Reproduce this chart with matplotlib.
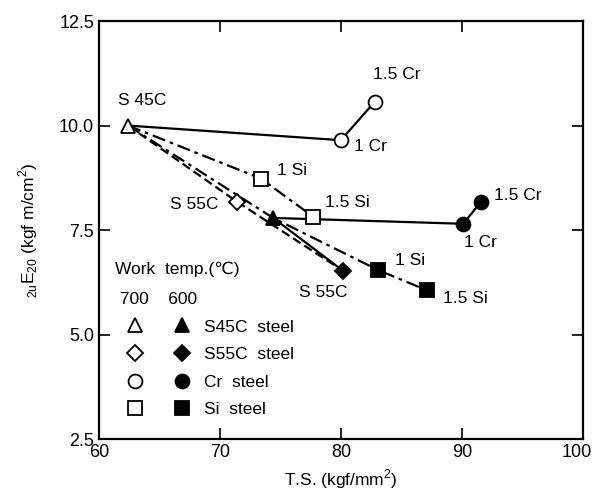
import matplotlib
matplotlib.use("Agg")
import matplotlib.pyplot as plt
from matplotlib.legend_handler import HandlerTuple
from matplotlib.lines import Line2D
from matplotlib.transforms import ScaledTranslation

plt.rcParams["font.family"] = ["Liberation Sans", "DejaVu Sans"]
plt.rcParams["mathtext.fontset"] = "custom"
plt.rcParams["mathtext.rm"] = "Liberation Sans"

# T.S. (kgf/mm2) and 2uE20 (kgfm/cm2)
s45c_700 = (62.4, 10.0)
s45c_600 = (74.4, 7.79)
s55c_700 = (71.4, 8.18)
s55c_600 = (80.2, 6.52)
cr_700_x = [80.0, 82.8]
cr_700_y = [9.65, 10.57]
cr_600_x = [90.1, 91.6]
cr_600_y = [7.65, 8.18]
si_700_x = [73.4, 77.7]
si_700_y = [8.73, 7.82]
si_600_x = [83.1, 87.1]
si_600_y = [6.54, 6.06]

point_labels = [
    ("S 45C", 63.6, 10.6), ("1.5 Cr", 84.6, 11.22), ("1 Cr", 82.4, 9.51),
    ("1 Si", 76.0, 8.92), ("1.5 Si", 80.5, 8.16), ("S 55C", 67.9, 8.1),
    ("1.5 Cr", 94.6, 8.32), ("1 Cr", 91.5, 7.2), ("1 Si", 85.7, 6.76),
    ("S 55C", 78.5, 6.0), ("1.5 Si", 90.3, 5.86),
]

x_ticks = [60, 70, 80, 90, 100]
y_ticks = [2.5, 5.0, 7.5, 10.0, 12.5]

dashdot = (0, (6, 2.2, 1.6, 2.2))
dashed = (0, (4, 2))
lw = 1.6

fig = plt.figure(figsize=(5.96, 4.90), dpi=100)
ax = fig.add_axes([0.166, 0.104, 0.812, 0.853])

# connecting lines
ax.plot([s45c_700[0]] + cr_700_x, [s45c_700[1]] + cr_700_y, color="k", lw=lw, zorder=2)
ax.plot([s45c_700[0]] + si_700_x, [s45c_700[1]] + si_700_y, color="k", lw=lw,
        ls=dashdot, zorder=2)
ax.plot([s45c_700[0], s55c_700[0], s55c_600[0]], [s45c_700[1], s55c_700[1], s55c_600[1]],
        color="k", lw=lw, ls=dashed, zorder=2)
ax.plot([s45c_700[0], s45c_600[0]] + si_600_x, [s45c_700[1], s45c_600[1]] + si_600_y,
        color="k", lw=lw, ls=dashdot, zorder=2)
ax.plot([s45c_600[0]] + cr_600_x, [s45c_600[1]] + cr_600_y, color="k", lw=lw, zorder=2)
ax.plot([s45c_600[0], s55c_600[0]], [s45c_600[1], s55c_600[1]], color="k", lw=lw, zorder=2)

# markers
ms = 10
open_kw = dict(ls="none", mfc="white", mec="k", mew=1.3, ms=ms, zorder=3)
fill_kw = dict(ls="none", mfc="k", mec="k", mew=1.3, ms=ms, zorder=3)
ax.plot([s45c_700[0]], [s45c_700[1]], marker="^", **open_kw)
ax.plot([s45c_600[0]], [s45c_600[1]], marker="^", **fill_kw)
ax.plot([s55c_700[0]], [s55c_700[1]], marker="D", **{**open_kw, "ms": 8.5})
ax.plot([s55c_600[0]], [s55c_600[1]], marker="D", **{**fill_kw, "ms": 8.5})
ax.plot(cr_700_x, cr_700_y, marker="o", **open_kw)
ax.plot(cr_600_x, cr_600_y, marker="o", **fill_kw)
ax.plot(si_700_x, si_700_y, marker="s", **open_kw)
ax.plot(si_600_x, si_600_y, marker="s", **fill_kw)

for txt, x, y in point_labels:
    ax.text(x, y, txt, fontsize=12.5, ha="center", va="center", zorder=4)


def mk(marker, filled):
    return Line2D([], [], ls="none", marker=marker, ms=ms if marker != "D" else 8.5,
                  mfc="k" if filled else "white", mec="k", mew=1.3)


handles = [(mk("^", False), mk("^", True)), (mk("D", False), mk("D", True)),
           (mk("o", False), mk("o", True)), (mk("s", False), mk("s", True))]
labels = ["S45C  steel", "S55C  steel", "Cr  steel", "Si  steel"]
leg = ax.legend(handles, labels, handler_map={tuple: HandlerTuple(ndivide=None, pad=0.4)},
                loc="lower left", bbox_to_anchor=(0.019, 0.035), frameon=False,
                fontsize=12.5, handlelength=5.0, handletextpad=0.1, labelspacing=0.72,
                title="Work  temp.(\u2103)\n 700    600", title_fontsize=12.5,
                borderaxespad=0.0)
leg._legend_box.align = "left"
leg.get_title().set_linespacing(2.2)

ax.set_xlim(60, 100)
ax.set_ylim(2.5, 12.5)
ax.set_xticks(x_ticks)
ax.set_yticks(y_ticks)
ax.set_yticklabels([f"{v:.1f}" for v in y_ticks])
ax.tick_params(direction="in", length=8, width=1.2, labelsize=13, top=True, right=True,
               labeltop=False, labelright=False)
for sp in ax.spines.values():
    sp.set_linewidth(1.6)
ax.set_xlabel("T.S. (kgf/mm$^2$)", fontsize=12.5, labelpad=5)
ax.set_ylabel(r"$_{2\mathrm{u}}\mathrm{E}_{20}$ (kgf m/cm$^2$)", fontsize=12.5, labelpad=14)

# keep the "100" label inside the canvas, as in the reference
last = ax.get_xticklabels()[-1]
last.set_transform(last.get_transform() + ScaledTranslation(-4.5 / 72, 0, fig.dpi_scale_trans))

fig.savefig("out.png", dpi=100)
